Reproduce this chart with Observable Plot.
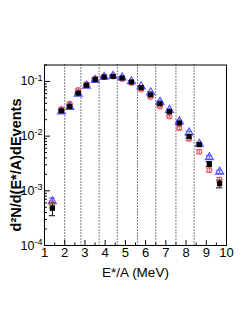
<!DOCTYPE html>
<html><head><meta charset="utf-8">
<script src="https://cdn.jsdelivr.net/npm/d3@7"></script>
<script src="https://cdn.jsdelivr.net/npm/@observablehq/plot@0.6"></script>
<style>body{margin:0;background:#fff}</style>
</head><body><div id="chart"></div>
<script>
const energy = [1.39,1.84,2.25,2.67,3.08,3.51,3.95,4.39,4.84,5.30,5.78,6.25,6.71,7.18,7.67,8.15,8.66,9.15,9.66];
const blackVals = [4.8e-4,0.029,0.035,0.061,0.085,0.109,0.121,0.124,0.116,0.098,0.077,0.057,0.039,0.028,0.0173,0.0098,0.0070,0.0031,0.00135];
const redVals   = [5.7e-4,0.0315,0.039,0.070,0.090,0.114,0.121,0.123,0.111,0.094,0.071,0.052,0.0347,0.0228,0.0140,0.0089,0.0052,0.0024,0.0016];
const blueVals  = [6.4e-4,0.028,0.034,0.059,0.083,0.106,0.121,0.126,0.118,0.100,0.081,0.063,0.042,0.030,0.0185,0.0116,0.0072,0.0041,0.00223];
const blackErr = [0.27,0.05,0.05,0.04,0.04,0.04,0.04,0.04,0.04,0.04,0.04,0.04,0.05,0.05,0.06,0.07,0.08,0.10,0.16];
const redErr   = [0.15,0.05,0.05,0.04,0.04,0.04,0.04,0.04,0.04,0.04,0.04,0.04,0.05,0.05,0.06,0.07,0.08,0.09,0.10];
const blueErr  = [0.15,0.05,0.05,0.04,0.04,0.04,0.04,0.04,0.04,0.04,0.04,0.04,0.05,0.05,0.06,0.06,0.07,0.07,0.07];
const dividers = [2.0,2.8,3.7,4.6,5.6,6.5,7.5,8.4];
const xTicks = [1,2,3,4,5,6,7,8,9,10];
const yTicks = [1e-4,1e-3,1e-2,1e-1];
const yExponents = ["-4","-3","-2","-1"];
const xLabel = "E*/A (MeV)";
const yLabel = "d²N/d(E*/A)dEvents";

const RED = "#f25a5a", BLUE = "#4f4fff", BLACK = "#000";
const yMinor = [];
for (let e = -4; e <= -1; e++) for (let k = 2; k <= 9; k++) { const v = k * Math.pow(10, e); if (v <= 0.2) yMinor.push(v); }
const xMinor = d3.range(1, 10.01, 0.5).filter(v => !Number.isInteger(v));

const mk = (vals, errs) => energy.map((x, i) => ({x, y: vals[i], lo: vals[i] * (1 - errs[i]), hi: vals[i] * (1 + errs[i])}));
const blackD = mk(blackVals, blackErr);
const redD = mk(redVals, redErr);
const blueD = mk(blueVals, blueErr);

const errMarks = (D, color) => [
  Plot.ruleX(D, {x: "x", y1: "lo", y2: "hi", stroke: color, strokeWidth: 1}),
  Plot.ruleY(D, {y: "lo", x1: d => d.x - 0.15, x2: d => d.x + 0.15, stroke: color, strokeWidth: 1}),
  Plot.ruleY(D, {y: "hi", x1: d => d.x - 0.15, x2: d => d.x + 0.15, stroke: color, strokeWidth: 1})
];

const chart = Plot.plot({
  width: 243, height: 324,
  marginLeft: 44, marginRight: 17, marginTop: 64.5, marginBottom: 79,
  style: {fontFamily: "'Liberation Sans', Arial, sans-serif", fontSize: "13px", background: "#fff", color: "#000", overflow: "visible"},
  x: {domain: [1, 10]},
  y: {type: "log", domain: [1e-4, 0.2]},
  marks: [
    Plot.ruleX(dividers, {stroke: BLACK, strokeDasharray: "1,2", strokeWidth: 1}),
    Plot.axisX({ticks: xTicks, tickSize: -5, tickPadding: 7, tickFormat: d => String(d), label: null, fontSize: 13}),
    Plot.axisX({ticks: xMinor, tickSize: -2.5, text: null, label: null}),
    Plot.axisY({ticks: yTicks, tickSize: -6, tickPadding: 8, tickFormat: d => "10", label: null, fontSize: 12.5}),
    Plot.axisY({ticks: yMinor, tickSize: -3, text: null, label: null}),
    ...errMarks(redD, RED),
    ...errMarks(blueD, BLUE),
    ...errMarks(blackD, BLACK),
    Plot.dot(redD, {x: "x", y: "y", r: 2.4, stroke: RED, fill: "none", strokeWidth: 1.1}),
    Plot.dot(blueD, {x: "x", y: "y", symbol: "triangle", r: 3.0, stroke: BLUE, fill: "none", strokeWidth: 1.1}),
    Plot.dot(blackD, {x: "x", y: "y", symbol: "square", r: 2.9, fill: BLACK, stroke: "none"}),
    Plot.frame({stroke: BLACK, strokeWidth: 1}),
    Plot.text([xLabel], {frameAnchor: "bottom", dy: 27, lineAnchor: "middle", fontSize: 13.5})
  ]
});
document.getElementById("chart").appendChild(chart);

chart.querySelectorAll('g[aria-label="y-axis tick label"] text').forEach((t, i) => {
  const sp = document.createElementNS("http://www.w3.org/2000/svg", "tspan");
  sp.setAttribute("dy", "-0.55em");
  sp.setAttribute("font-size", "9");
  sp.textContent = yExponents[i];
  t.appendChild(sp);
});

const g = d3.select(chart).append("g").attr("transform", "translate(16,165)");
g.append("text")
  .attr("transform", "rotate(-90)")
  .attr("text-anchor", "middle")
  .attr("dy", "0.35em")
  .attr("font-size", 14.5)
  .attr("font-weight", "bold")
  .attr("fill", "#000")
  .text(yLabel);
</script>
</body></html>
